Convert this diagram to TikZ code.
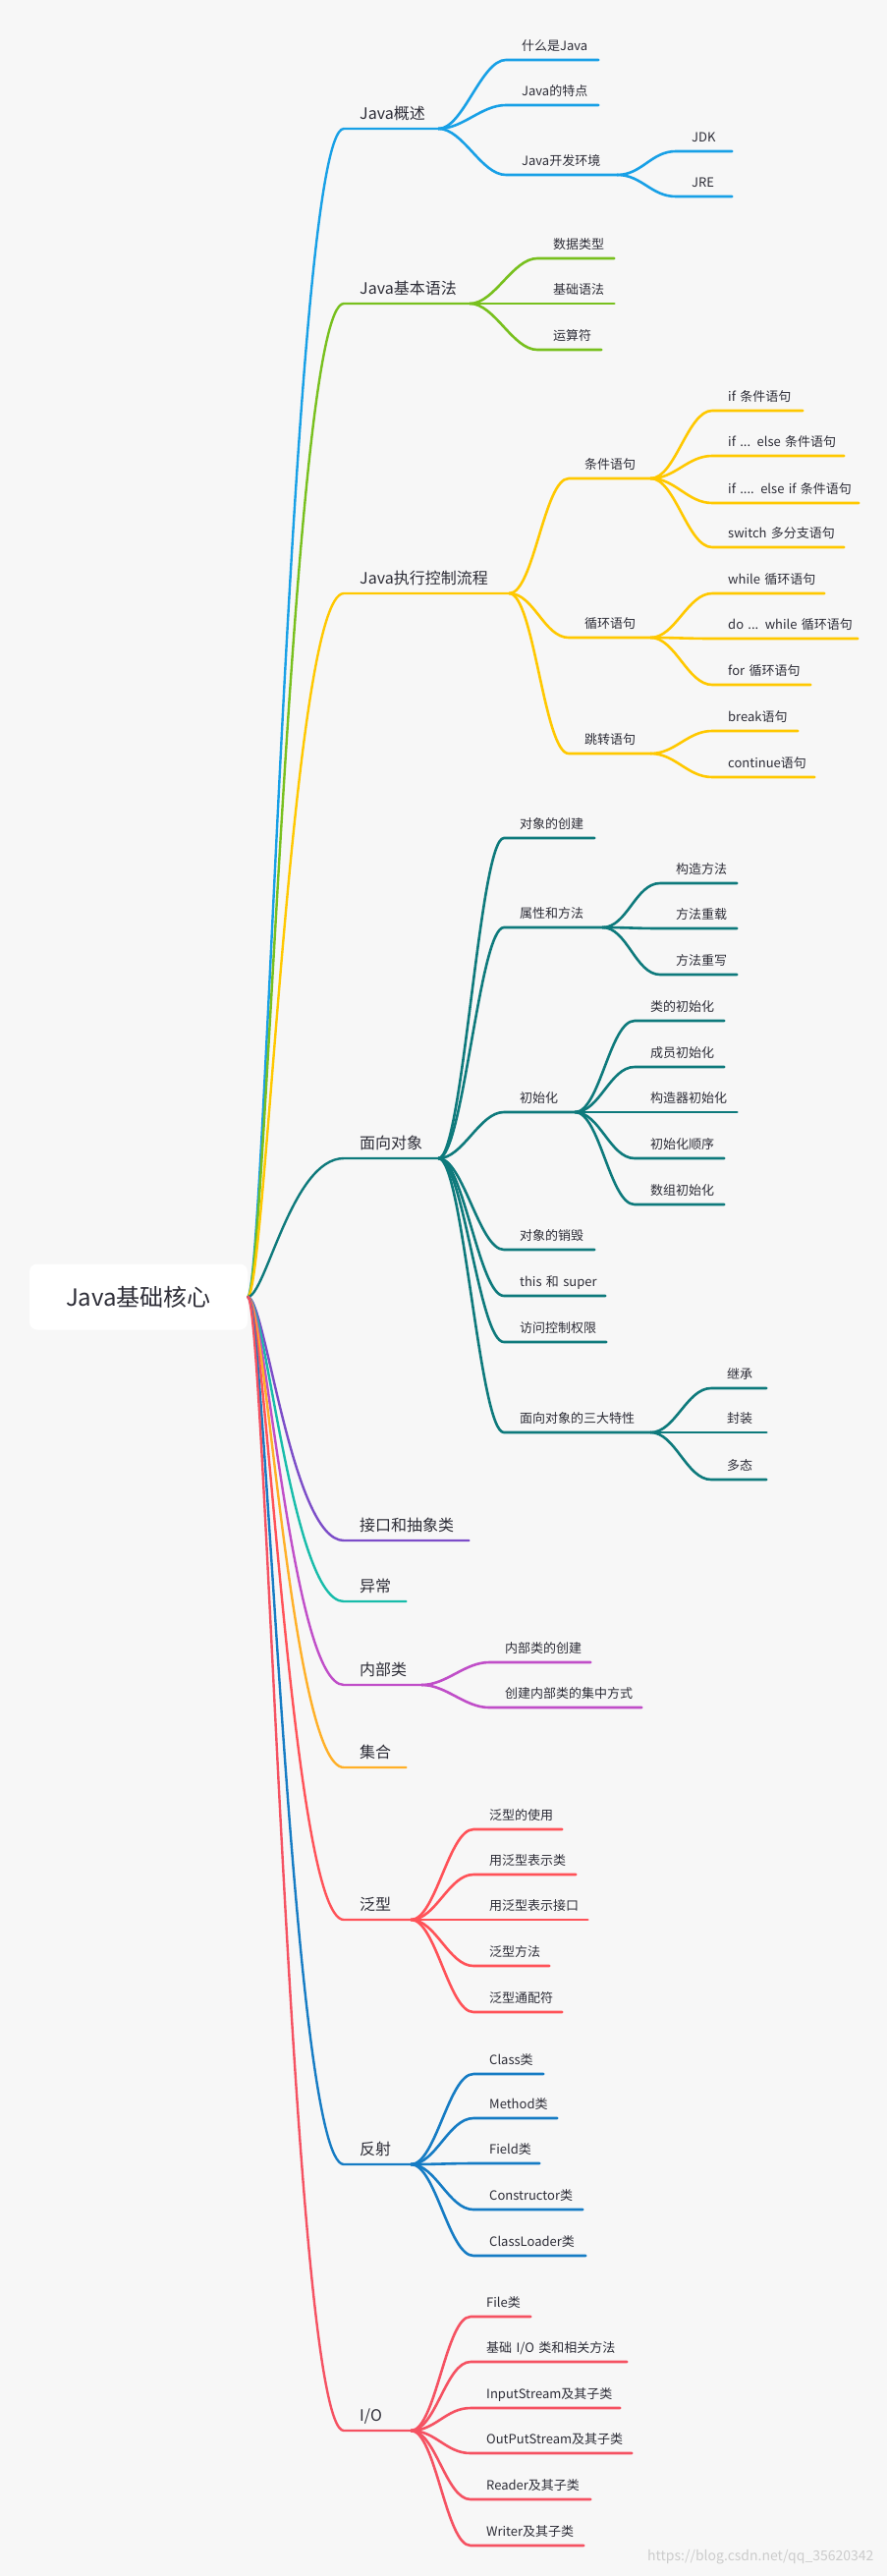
\documentclass[tikz,border=0pt]{standalone}
\usepackage{fontspec}
\setmainfont{Noto Sans CJK SC}
\definecolor{bg}{RGB}{247,247,247}
\definecolor{tc}{RGB}{45,45,55}
\definecolor{cgs}{RGB}{24,160,230}
\definecolor{cyf}{RGB}{120,192,30}
\definecolor{clc}{RGB}{255,200,0}
\definecolor{cmx}{RGB}{14,122,124}
\definecolor{cjk}{RGB}{124,77,200}
\definecolor{cyc}{RGB}{24,188,170}
\definecolor{cnb}{RGB}{192,78,200}
\definecolor{cjh}{RGB}{255,176,40}
\definecolor{cfx}{RGB}{255,82,88}
\definecolor{cfs}{RGB}{22,124,196}
\definecolor{cio}{RGB}{245,82,98}
\tikzset{lv1/.style={anchor=south west,inner sep=0pt,text depth=9pt,align=left,text=tc,
   font=\fontsize{16}{19}\selectfont,execute at begin node={\hspace*{16pt}}},
 lv2/.style={lv1,font=\fontsize{13}{16}\selectfont},
 ln/.style={line width=2.6pt,line cap=round},
 rl/.style={line width=2.4pt,line cap=round},
 rootbox/.style={fill=white,rounded corners=8pt,minimum width=222pt,minimum height=67pt,
   text=tc,font=\fontsize{24}{28}\selectfont},
 wm/.style={text=gray!40,font=\fontsize{14}{16}\selectfont}}

\begin{document}
\begin{tikzpicture}[x=1pt,y=-1pt]
\fill[bg] (0,0) rectangle (903,2622);
\node[rootbox] (root) at (141,1320) {Java基础核心};
% first level
\node[lv1,text width=96pt] (gs) at (350,131) {Java概述};
\node[lv1,text width=128pt] (yf) at (350,309) {Java基本语法};
\node[lv1,text width=168pt] (lc) at (350,604) {Java执行控制流程};
\node[lv1,text width=96pt] (mx) at (350,1179) {面向对象};
\node[lv1,text width=127pt] (jk) at (350,1568) {接口和抽象类};
\node[lv1,text width=63pt] (yc) at (350,1630) {异常};
\node[lv1,text width=79pt] (nb) at (350,1715) {内部类};
\node[lv1,text width=63pt] (jh) at (350,1799) {集合};
\node[lv1,text width=68pt] (fx) at (350,1954) {泛型};
\node[lv1,text width=68pt] (fs) at (350,2203) {反射};
\node[lv1,text width=68pt] (io) at (350,2474) {I/O};
% Java概述
\node[lv2,text width=94pt] (gs1) at (515,61) {什么是Java};
\node[lv2,text width=94pt] (gs2) at (515,107) {Java的特点};
\node[lv2,text width=113pt] (gs3) at (515,178) {Java开发环境};
\node[lv2,text width=57pt] (gs31) at (688,154) {JDK};
\node[lv2,text width=57pt] (gs32) at (688,200) {JRE};
% Java基本语法
\node[lv2,text width=78pt] (yf1) at (547,263) {数据类型};
\node[lv2,text width=78pt] (yf2) at (547,309) {基础语法};
\node[lv2,text width=65pt] (yf3) at (547,356) {运算符};
% Java执行控制流程
\node[lv2,text width=83pt] (lc1) at (579,487) {条件语句};
\node[lv2,text width=83pt] (lc2) at (579,649) {循环语句};
\node[lv2,text width=83pt] (lc3) at (579,767) {跳转语句};
\node[lv2,text width=92pt] (lc11) at (725,418) {if 条件语句};
\node[lv2,text width=134pt] (lc12) at (725,464) {if ... else 条件语句};
\node[lv2,text width=149pt] (lc13) at (725,512) {if .... else if 条件语句};
\node[lv2,text width=134pt] (lc14) at (725,557) {switch 多分支语句};
\node[lv2,text width=114pt] (lc21) at (725,604) {while 循环语句};
\node[lv2,text width=148pt] (lc22) at (725,650) {do ... while 循环语句};
\node[lv2,text width=100pt] (lc23) at (725,697) {for 循环语句};
\node[lv2,text width=87pt] (lc31) at (725,744) {break语句};
\node[lv2,text width=104pt] (lc32) at (725,791) {continue语句};
% 面向对象
\node[lv2,text width=92pt] (mx1) at (513,853) {对象的创建};
\node[lv2,text width=100pt] (mx2) at (513,944) {属性和方法};
\node[lv2,text width=72pt] (mx3) at (513,1132) {初始化};
\node[lv2,text width=92pt] (mx4) at (513,1272) {对象的销毁};
\node[lv2,text width=103pt] (mx5) at (513,1319) {this 和 super};
\node[lv2,text width=104pt] (mx6) at (513,1366) {访问控制权限};
\node[lv2,text width=149pt] (mx7) at (513,1458) {面向对象的三大特性};
\node[lv2,text width=78pt] (mx21) at (672,899) {构造方法};
\node[lv2,text width=78pt] (mx22) at (672,945) {方法重载};
\node[lv2,text width=78pt] (mx23) at (672,992) {方法重写};
\node[lv2,text width=91pt] (mx31) at (646,1039) {类的初始化};
\node[lv2,text width=91pt] (mx32) at (646,1086) {成员初始化};
\node[lv2,text width=104pt] (mx33) at (646,1132) {构造器初始化};
\node[lv2,text width=91pt] (mx34) at (646,1179) {初始化顺序};
\node[lv2,text width=91pt] (mx35) at (646,1226) {数组初始化};
\node[lv2,text width=56pt] (mx71) at (724,1413) {继承};
\node[lv2,text width=56pt] (mx72) at (724,1458) {封装};
\node[lv2,text width=56pt] (mx73) at (724,1506) {多态};
% 内部类
\node[lv2,text width=103pt] (nb1) at (498,1692) {内部类的创建};
\node[lv2,text width=155pt] (nb2) at (498,1738) {创建内部类的集中方式};
% 泛型
\node[lv2,text width=90pt] (fx1) at (482,1862) {泛型的使用};
\node[lv2,text width=104pt] (fx2) at (482,1908) {用泛型表示类};
\node[lv2,text width=116pt] (fx3) at (482,1954) {用泛型表示接口};
\node[lv2,text width=77pt] (fx4) at (482,2001) {泛型方法};
\node[lv2,text width=90pt] (fx5) at (482,2048) {泛型通配符};
% 反射
\node[lv2,text width=71pt] (fs1) at (482,2111) {Class类};
\node[lv2,text width=85pt] (fs2) at (482,2156) {Method类};
\node[lv2,text width=67pt] (fs3) at (482,2202) {Field类};
\node[lv2,text width=111pt] (fs4) at (482,2249) {Constructor类};
\node[lv2,text width=114pt] (fs5) at (482,2296) {ClassLoader类};
% I/O
\node[lv2,text width=61pt] (io1) at (479,2358) {File类};
\node[lv2,text width=159pt] (io2) at (479,2404) {基础 I/O 类和相关方法};
\node[lv2,text width=152pt] (io3) at (479,2451) {InputStream及其子类};
\node[lv2,text width=164pt] (io4) at (479,2497) {OutPutStream及其子类};
\node[lv2,text width=122pt] (io5) at (479,2544) {Reader及其子类};
\node[lv2,text width=115pt] (io6) at (479,2591) {Writer及其子类};
\node[wm,anchor=east] (wmk) at (893,2603) {https://blog.csdn.net/qq\_35620342};
% root branches
\foreach \x/\col in {gs/cgs,yf/cyf,lc/clc,mx/cmx,jk/cjk,yc/cyc,nb/cnb,jh/cjh,fx/cfx,fs/cfs,io/cio}
  \draw[rl,\col] (root.east) .. controls +(18,0) and +(-53,0) .. (\x.south west) -- (\x.south east);
% sub branches
\foreach \p/\x/\col in {gs/gs1/cgs,gs/gs2/cgs,gs/gs3/cgs,gs3/gs31/cgs,gs3/gs32/cgs,
  yf/yf1/cyf,yf/yf2/cyf,yf/yf3/cyf,
  lc/lc1/clc,lc/lc2/clc,lc/lc3/clc,lc1/lc11/clc,lc1/lc12/clc,lc1/lc13/clc,lc1/lc14/clc,
  lc2/lc21/clc,lc2/lc22/clc,lc2/lc23/clc,lc3/lc31/clc,lc3/lc32/clc,
  mx/mx1/cmx,mx/mx2/cmx,mx/mx3/cmx,mx/mx4/cmx,mx/mx5/cmx,mx/mx6/cmx,mx/mx7/cmx,
  mx2/mx21/cmx,mx2/mx22/cmx,mx2/mx23/cmx,mx3/mx31/cmx,mx3/mx32/cmx,mx3/mx33/cmx,
  mx3/mx34/cmx,mx3/mx35/cmx,mx7/mx71/cmx,mx7/mx72/cmx,mx7/mx73/cmx,
  nb/nb1/cnb,nb/nb2/cnb,
  fx/fx1/cfx,fx/fx2/cfx,fx/fx3/cfx,fx/fx4/cfx,fx/fx5/cfx,
  fs/fs1/cfs,fs/fs2/cfs,fs/fs3/cfs,fs/fs4/cfs,fs/fs5/cfs,
  io/io1/cio,io/io2/cio,io/io3/cio,io/io4/cio,io/io5/cio,io/io6/cio}
  \draw[ln,\col] (\p.south east) .. controls +(25,0) and +(-25,0) .. (\x.south west) -- (\x.south east);
\end{tikzpicture}
\end{document}
